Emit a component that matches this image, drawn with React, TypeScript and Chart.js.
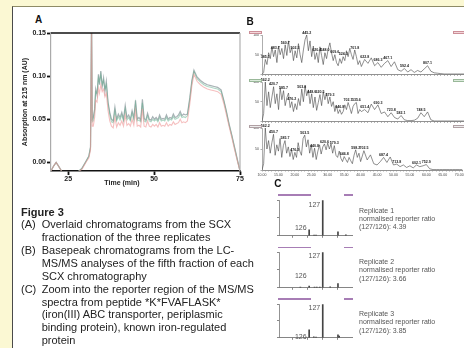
import React, { useEffect, useRef } from 'react';
import { Chart, registerables } from 'chart.js';
Chart.register(...registerables);

const FONT = '"Liberation Sans", Arial, sans-serif';

// ---------- Panel A: SCX chromatograms ----------
const timeA = [
  20, 20.8, 21.5, 22.3, 23.2, 25, 27.5, 29, 30.3, 31.0,
  31.5, 31.8, 32.0, 32.3, 32.7, 33.0, 33.4, 33.8, 34.1, 34.5,
  34.9, 35.3, 35.7, 36.1, 36.6, 37.1, 37.6, 38.1, 38.6, 39.1,
  39.6, 40.1, 40.6, 41.1, 41.6, 42.1, 42.6, 43.1, 43.6, 44.1,
  44.6, 45.1, 45.6, 46.1, 46.6, 47.1, 47.6, 48.1, 48.6, 49.1,
  49.6, 50.1, 50.6, 51.1, 51.6, 52.1, 52.6, 53.1, 53.6, 54.1,
  54.6, 55.1, 55.6, 56.1, 56.6, 57.1, 57.6, 58.1, 58.6, 59.1,
  59.7, 60.4, 61.0, 61.6, 62.5, 63.5, 64.5, 65.5, 66.5, 67.5,
  68.5, 69.5, 70.3, 71.0, 71.8, 72.6, 73.4, 74.2, 75,
];
const replicate1 = [
  -0.010, -0.004, 0.000, -0.005, -0.011, -0.013, -0.012, -0.007, 0.002, 0.007,
  0.018, 0.170, 0.050, 0.052, 0.062, 0.085, 0.078, 0.102, 0.090, 0.106,
  0.088, 0.098, 0.082, 0.094, 0.070, 0.058, 0.050, 0.048, 0.064, 0.050,
  0.056, 0.052, 0.058, 0.050, 0.066, 0.052, 0.055, 0.050, 0.060, 0.052,
  0.072, 0.050, 0.052, 0.049, 0.073, 0.051, 0.049, 0.057, 0.050, 0.049,
  0.053, 0.050, 0.052, 0.049, 0.055, 0.050, 0.051, 0.050, 0.055, 0.050,
  0.052, 0.051, 0.056, 0.052, 0.053, 0.055, 0.059, 0.054, 0.056, 0.055,
  0.056, 0.075, 0.095, 0.107, 0.099, 0.095, 0.092, 0.090, 0.089, 0.088,
  0.087, 0.084, 0.072, 0.060, 0.045, 0.032, 0.018, 0.004, -0.010,
];
const replicate2 = [
  -0.010, -0.004, 0.000, -0.005, -0.011, -0.013, -0.012, -0.007, 0.002, 0.007,
  0.017, 0.165, 0.047, 0.048, 0.060, 0.082, 0.080, 0.098, 0.093, 0.102,
  0.090, 0.095, 0.085, 0.090, 0.068, 0.055, 0.047, 0.046, 0.060, 0.048,
  0.053, 0.049, 0.055, 0.048, 0.062, 0.049, 0.052, 0.048, 0.057, 0.049,
  0.068, 0.048, 0.049, 0.047, 0.069, 0.048, 0.047, 0.054, 0.048, 0.047,
  0.050, 0.048, 0.050, 0.047, 0.052, 0.048, 0.049, 0.048, 0.052, 0.048,
  0.050, 0.049, 0.053, 0.050, 0.051, 0.052, 0.056, 0.052, 0.053, 0.052,
  0.054, 0.073, 0.093, 0.105, 0.097, 0.093, 0.090, 0.088, 0.087, 0.086,
  0.085, 0.082, 0.071, 0.059, 0.044, 0.031, 0.017, 0.003, -0.010,
];
const replicate3 = [
  -0.010, -0.004, 0.000, -0.005, -0.011, -0.013, -0.012, -0.008, 0.001, 0.005,
  0.014, 0.160, 0.042, 0.042, 0.052, 0.072, 0.070, 0.086, 0.080, 0.090,
  0.082, 0.085, 0.076, 0.080, 0.060, 0.048, 0.042, 0.040, 0.052, 0.041,
  0.046, 0.043, 0.048, 0.042, 0.055, 0.043, 0.045, 0.042, 0.050, 0.043,
  0.060, 0.042, 0.043, 0.041, 0.062, 0.042, 0.041, 0.048, 0.042, 0.041,
  0.044, 0.042, 0.044, 0.041, 0.046, 0.042, 0.043, 0.042, 0.046, 0.042,
  0.044, 0.043, 0.047, 0.044, 0.045, 0.046, 0.050, 0.046, 0.047, 0.046,
  0.048, 0.068, 0.089, 0.102, 0.094, 0.090, 0.087, 0.085, 0.084, 0.083,
  0.082, 0.079, 0.068, 0.056, 0.042, 0.029, 0.015, 0.002, -0.010,
];
const xTicksA = [25, 50, 75];
const yTicksA = [0, 0.05, 0.1, 0.15];

// ---------- Panel B: base peak chromatograms ----------
const timeB = [
  10, 10.5, 11, 11.5, 12, 12.5, 13, 13.5, 14, 14.5,
  15, 15.5, 16, 16.5, 17, 17.5, 18, 18.5, 19, 19.5,
  20, 20.5, 21, 21.5, 22, 22.5, 23, 23.5, 24, 24.5,
  25, 25.5, 26, 26.5, 27, 27.5, 28, 28.5, 29, 29.5,
  30, 30.5, 31, 31.5, 32, 32.5, 33, 33.5, 34, 34.5,
  35, 35.5, 36, 36.5, 37, 37.5, 38, 38.5, 39, 39.5,
  40,
  41, 42, 43, 44, 45, 46, 47, 48, 49, 50,
  51, 52, 53, 54, 55, 56, 57, 58, 59, 60,
  61, 62, 63, 64, 65, 66, 67, 68, 69, 70, 71,
];
const basePeak1 = [
  0, 5, 38, 25, 55, 40, 70, 45, 62, 30,
  72, 50, 66, 40, 75, 48, 85, 55, 68, 35,
  60, 42, 78, 50, 30, 62, 88, 100, 60, 85,
  45, 72, 38, 55, 30, 70, 48, 25, 55, 40,
  65, 80, 55, 35, 50, 30, 22, 40, 28, 45,
  35, 60, 45, 66, 50, 38, 62, 45, 25, 35,
  20,
  38, 28, 42, 22, 30, 18, 28, 35, 20, 32,
  12, 8, 15, 6, 12, 5, 10, 6, 14, 22,
  8, 4, 3, 2, 1, 1, 1, 1, 1, 1, 1,
];
const basePeak2 = [
  0, 20, 100, 40, 75, 35, 62, 88, 45, 70,
  30, 85, 55, 78, 40, 60, 72, 35, 50, 25,
  45, 30, 58, 40, 82, 50, 90, 65, 80, 45,
  70, 35, 62, 28, 48, 68, 40, 75, 55, 72,
  45, 62, 38, 50, 25, 40, 20, 30, 18, 25,
  42, 30, 48, 35, 20, 38, 45, 48, 20, 30,
  25,
  30, 22, 44, 30, 42, 20, 24, 12, 22, 10,
  6, 15, 4, 2, 2, 3, 8, 22, 12, 24,
  4, 1, 1, 1, 1, 1, 1, 1, 1, 1, 1,
];
const basePeak3 = [
  0, 15, 100, 50, 70, 40, 65, 85, 35, 60,
  45, 75, 30, 58, 70, 40, 55, 32, 48, 25,
  42, 30, 65, 45, 35, 75, 83, 55, 72, 40,
  60, 30, 52, 25, 45, 60, 38, 55, 62, 48,
  64, 50, 62, 40, 58, 35, 30, 45, 28, 20,
  32, 25, 18, 30, 22, 15, 35, 48, 30, 40,
  20,
  46, 24, 36, 15, 12, 20, 30, 18, 31, 12,
  14, 8, 12, 6, 10, 5, 12, 8, 10, 13,
  3, 1, 1, 1, 1, 1, 1, 1, 1, 1, 1,
];
const peakMasses1 = ['385.1', '483.7', '560.7', '502.3', '445.2', '620.4', '548.0', '609.6', '524.3', '701.8', '622.8', '686.3', '467.1', '592.4', '807.1', '901.5', '765.2', '812.4', '1002.6', '845.7', '1016.6', '912.3'];
const peakMasses2 = ['562.2', '420.7', '585.7', '476.2', '503.8', '448.0', '620.5', '579.3', '646.8', '702.1', '535.6', '651.4', '690.3', '723.8', '582.1', '748.5', '814.9', '806.2', '902.6', '958.3', '1001.4', '848.1'];
const peakMasses3 = ['562.2', '450.7', '585.7', '476.2', '503.5', '440.8', '620.6', '579.3', '646.8', '598.2', '702.5', '687.4', '713.8', '602.1', '752.9', '648.6', '865.2', '812.4', '904.6', '1016.3', '954.7', '881.0'];
const timeTickLabelsB = ['10.00', '15.00', '20.00', '25.00', '30.00', '35.00', '40.00', '45.00', '50.00', '55.00', '60.00', '65.00', '70.00'];
const intensityTicksB = [0, 50, 100];

// ---------- Panel C: reporter ion region ----------
const mzTicksC = [125, 126, 127, 128];
const spectrum1Mz = [126.09, 126.42, 126.55, 127.0, 128.02, 128.55];
const spectrum1Int = [17, 2, 2, 100, 11, 3];
const spectrum2Mz = [125.5, 126.09, 126.45, 126.6, 126.8, 127.0, 127.5, 128.02];
const spectrum2Int = [2, 5, 2, 2, 2, 100, 3, 12];
const spectrum3Mz = [126.09, 126.4, 126.55, 127.0, 128.02, 128.1];
const spectrum3Int = [24, 3, 2, 100, 9, 5];
const reporterLabels = ['127', '126'];
const reporterMz = [127.0, 126.09];
const labelHeights1 = [86, 21];
const labelHeights2 = [89, 32];
const labelHeights3 = [88, 3];
const replicateNames = ['Replicate 1', 'Replicate 2', 'Replicate 3'];
const reporterRatios = ['4.39', '3.66', '3.85'];

// ---------- Caption ----------
const captionTitle = 'Figure 3';
const captionTags = ['(A)', '(B)', '(C)'];
const captionLines = [
  ['Overlaid chromatograms from the SCX', 'fractionation of the three replicates'],
  ['Basepeak chromatograms from the LC-', 'MS/MS analyses of the fifth fraction of each', 'SCX chromatography'],
  ['Zoom into the reporter region of the MS/MS', 'spectra from peptide *K*FVAFLASK*', '(iron(III) ABC transporter, periplasmic', 'binding protein), known iron-regulated', 'protein'],
];

// ---------- plugins ----------
const frameAPlugin = {
  id: 'frameA',
  afterDraw(chart: any) {
    const { ctx, chartArea: a } = chart;
    ctx.save();
    ctx.strokeStyle = '#111';
    ctx.lineWidth = 1.5;
    ctx.beginPath();
    ctx.moveTo(a.left, a.top);
    ctx.lineTo(a.right, a.top);
    ctx.stroke();
    ctx.strokeStyle = '#b0b0b0';
    ctx.lineWidth = 1.2;
    ctx.beginPath();
    ctx.moveTo(a.right, a.top);
    ctx.lineTo(a.right, a.bottom);
    ctx.stroke();
    ctx.restore();
  },
};

const peakLabelPlugin = {
  id: 'peakLabels',
  afterDatasetsDraw(chart: any, _args: any, opts: any) {
    const labels: string[] = opts.labels || [];
    const meta = chart.getDatasetMeta(0);
    const data = chart.data.datasets[0].data;
    const ctx = chart.ctx;
    ctx.save();
    ctx.font = `bold 3.6px ${FONT}`;
    ctx.fillStyle = '#222';
    ctx.textAlign = 'center';
    ctx.textBaseline = 'bottom';
    let k = 0;
    let lastX = -100;
    for (let i = 1; i < data.length - 1 && k < labels.length; i++) {
      const v = data[i].y, p = data[i - 1].y, n = data[i + 1].y;
      if (v >= opts.threshold && v >= p && v >= n) {
        const el = meta.data[i];
        if (el.x - lastX < opts.minGap) continue;
        ctx.fillText(labels[k++], el.x, el.y - 0.5);
        lastX = el.x;
      }
    }
    ctx.restore();
  },
};

const reporterLabelPlugin = {
  id: 'reporterLabels',
  afterDatasetsDraw(chart: any, _args: any, opts: any) {
    const { ctx, scales } = chart;
    ctx.save();
    ctx.font = `7px ${FONT}`;
    ctx.fillStyle = '#555';
    ctx.textAlign = 'right';
    ctx.textBaseline = 'middle';
    reporterLabels.forEach((t, i) => {
      const x = scales.x.getPixelForValue(reporterMz[i]);
      const y = scales.y.getPixelForValue(opts.heights[i]);
      ctx.fillText(t, x - 2.5, y);
    });
    ctx.restore();
  },
};

// ---------- configs ----------
function configA() {
  const mk = (label: string, vals: number[], color: string, w: number) => ({
    label,
    data: timeA.map((t, i) => ({ x: t, y: vals[i] })),
    borderColor: color,
    borderWidth: w,
    pointRadius: 0,
    fill: false,
    tension: 0,
  });
  const tickFont = { family: FONT, size: 7, weight: 'bold' as const };
  return {
    type: 'line',
    data: {
      datasets: [
        mk('Replicate 3', replicate3, 'rgba(238,150,150,0.6)', 1.1),
        mk('Replicate 2', replicate2, 'rgba(95,175,140,0.5)', 1.1),
        mk('Replicate 1', replicate1, 'rgba(130,145,150,0.7)', 1.2),
      ],
    },
    options: {
      animation: false,
      responsive: false,
      events: [],
      layout: { padding: { left: 18, top: 33, right: 10, bottom: 0 } },
      plugins: { legend: { display: false }, tooltip: { enabled: false } },
      scales: {
        x: {
          type: 'linear',
          min: 20,
          max: 75,
          afterBuildTicks: (s: any) => { s.ticks = xTicksA.map((v) => ({ value: v })); },
          afterFit: (s: any) => { s.height = 19; },
          grid: { drawOnChartArea: false, tickLength: 4, tickWidth: 1.8, tickColor: '#111' },
          border: { color: '#111', width: 1.5 },
          ticks: { padding: 0, color: '#222', font: tickFont, maxRotation: 0, autoSkip: false },
        },
        y: {
          type: 'linear',
          min: -0.01,
          max: 0.15,
          afterBuildTicks: (s: any) => { s.ticks = yTicksA.map((v) => ({ value: v })); },
          afterFit: (s: any) => { s.width = 33; },
          grid: { drawOnChartArea: false, tickLength: 4, tickWidth: 1.8, tickColor: '#111' },
          border: { color: '#aaa', width: 1.2 },
          ticks: { padding: 1, color: '#222', font: tickFont, callback: (v: number) => v.toFixed(2) },
          title: { display: true, text: 'Absorption at 215 nm (AU)', color: '#222', font: tickFont, padding: { top: 3, bottom: 0 } },
        },
      },
    },
    plugins: [frameAPlugin],
  };
}

function configB(values: number[], masses: string[], showTimeLabels: boolean, padTop: number, xHeight: number) {
  const tiny = { family: FONT, size: 3.5 };
  return {
    type: 'line',
    data: {
      datasets: [{
        label: 'Base peak',
        data: timeB.map((t, i) => ({ x: t, y: values[i] })),
        borderColor: '#444',
        borderWidth: 0.6,
        pointRadius: 0,
        tension: 0,
        fill: false,
      }],
    },
    options: {
      animation: false,
      responsive: false,
      events: [],
      layout: { padding: { left: 0, top: padTop, right: 0, bottom: 0 } },
      plugins: {
        legend: { display: false },
        tooltip: { enabled: false },
        peakLabels: { labels: masses, threshold: 12, minGap: 7 },
      },
      scales: {
        x: {
          type: 'linear',
          min: 10,
          max: 71,
          afterBuildTicks: (s: any) => {
            const arr: any[] = [];
            timeB.forEach((t) => { if (Number.isInteger(t)) arr.push({ value: t }); });
            s.ticks = arr;
          },
          afterFit: (s: any) => { s.height = xHeight; },
          grid: { drawOnChartArea: false, tickLength: 1.5, tickWidth: 0.6, tickColor: '#777' },
          border: { color: '#777', width: 0.8 },
          ticks: {
            display: showTimeLabels,
            padding: 1.5,
            color: '#444',
            font: tiny,
            maxRotation: 0,
            autoSkip: false,
            callback: (v: number) => (v % 5 === 0 ? timeTickLabelsB[(v - 10) / 5] : ''),
          },
        },
        y: {
          type: 'linear',
          min: 0,
          max: 100,
          afterBuildTicks: (s: any) => { s.ticks = intensityTicksB.map((v) => ({ value: v })); },
          afterFit: (s: any) => { s.width = 22; },
          grid: { drawOnChartArea: false, tickLength: 1.5, tickWidth: 0.6, tickColor: '#777' },
          border: { color: '#999', width: 0.8 },
          ticks: { padding: 1.5, color: '#444', font: tiny, callback: (v: number) => (v === 0 ? '' : String(v)) },
        },
      },
    },
    plugins: [peakLabelPlugin],
  };
}

function configC(mz: number[], ints: number[], heights: number[], padTop: number, xHeight: number) {
  return {
    type: 'bar',
    data: {
      datasets: [{
        label: 'Reporter ions',
        data: mz.map((m, i) => ({ x: m, y: ints[i] })),
        backgroundColor: '#444',
        borderWidth: 0,
        barThickness: 1,
      }],
    },
    options: {
      animation: false,
      responsive: false,
      events: [],
      layout: { padding: { left: 0, top: padTop, right: 4, bottom: 0 } },
      plugins: { legend: { display: false }, tooltip: { enabled: false }, reporterLabels: { heights } },
      scales: {
        x: {
          type: 'linear',
          min: 124.07,
          max: 128.96,
          offset: false,
          afterBuildTicks: (s: any) => { s.ticks = mzTicksC.map((v) => ({ value: v })); },
          afterFit: (s: any) => { s.height = xHeight; },
          grid: { drawOnChartArea: false, tickLength: 2, tickWidth: 0.7, tickColor: '#555', offset: false },
          border: { color: '#666', width: 0.8 },
          ticks: { display: false },
        },
        y: {
          type: 'linear',
          min: 0,
          max: 100,
          afterBuildTicks: (s: any) => { s.ticks = [0, 50, 100].map((v) => ({ value: v })); },
          afterFit: (s: any) => { s.width = 17; },
          grid: { drawOnChartArea: false, tickLength: 2, tickWidth: 0.7, tickColor: '#555' },
          border: { color: '#777', width: 0.8 },
          ticks: { callback: () => '' },
        },
      },
    },
    plugins: [reporterLabelPlugin],
  };
}

function ChartCanvas({ left, top, width, height, make }: any) {
  const ref = useRef<HTMLCanvasElement>(null);
  useEffect(() => {
    const chart = new Chart(ref.current as HTMLCanvasElement, make());
    return () => chart.destroy();
  }, []);
  return (
    <canvas
      ref={ref}
      width={width}
      height={height}
      style={{ position: 'absolute', left, top, width, height }}
    />
  );
}

const abs = (left: number, top: number, extra: any = {}) => ({ position: 'absolute' as const, left, top, ...extra });

function Rect({ left, top, width, height, fill, stroke }: any) {
  return <div style={abs(left, top, { width, height, background: fill, border: `0.8px solid ${stroke}`, boxSizing: 'border-box' })} />;
}

export default function App() {
  const panelLetter = { fontFamily: FONT, fontWeight: 'bold', fontSize: 10, lineHeight: '10px', color: '#111' };
  const noteTops = [206.5, 258.2, 310];
  const purpleTops = [194.3, 246.8, 298.3];
  return (
    <div style={{ position: 'absolute', left: 0, top: 0, width: 464, height: 348, overflow: 'hidden', background: '#FBF8D3', fontFamily: FONT }}>
      <div style={abs(12, 6, { width: 452, height: 342, background: '#fff', borderLeft: '1px solid #4a4a4a', borderTop: '1.5px solid #8e8b66', boxSizing: 'border-box' })} />

      {/* Panel A */}
      <div style={abs(35, 15, panelLetter)}>A</div>
      <ChartCanvas left={0} top={0} width={250} height={190} make={configA} />
      <div style={abs(122, 179, { transform: 'translateX(-50%)', fontSize: 7, fontWeight: 'bold', lineHeight: '8px', color: '#222', whiteSpace: 'nowrap' })}>Time (min)</div>

      {/* Panel B */}
      <div style={abs(246.5, 17.2, panelLetter)}>B</div>
      <ChartCanvas left={240} top={26} width={224} height={52} make={() => configB(basePeak1, peakMasses1, false, 9, 2)} />
      <ChartCanvas left={240} top={76} width={224} height={49} make={() => configB(basePeak2, peakMasses2, false, 6, 2)} />
      <ChartCanvas left={240} top={122} width={224} height={58} make={() => configB(basePeak3, peakMasses3, true, 6, 10)} />
      <Rect left={249} top={30.5} width={13} height={3} fill="#f4d6da" stroke="#cc8f98" />
      <Rect left={453} top={30.5} width={12} height={3} fill="#f4d6da" stroke="#cc8f98" />
      <Rect left={249} top={78.5} width={13} height={3} fill="#dcebdc" stroke="#99b899" />
      <Rect left={453} top={79} width={12} height={3} fill="#dcebdc" stroke="#99b899" />
      <Rect left={249} top={125} width={13} height={3} fill="#ececec" stroke="#b0a0a4" />
      <Rect left={453} top={125} width={12} height={3} fill="#ececec" stroke="#b0a0a4" />

      {/* Panel C */}
      <div style={abs(274.3, 179, panelLetter)}>C</div>
      <ChartCanvas left={262} top={190} width={94} height={56} make={() => configC(spectrum1Mz, spectrum1Int, labelHeights1, 5, 4)} />
      <ChartCanvas left={262} top={242} width={94} height={56} make={() => configC(spectrum2Mz, spectrum2Int, labelHeights2, 5, 4)} />
      <ChartCanvas left={262} top={294} width={94} height={54} make={() => configC(spectrum3Mz, spectrum3Int, labelHeights3, 5, 3)} />
      {purpleTops.map((t, i) => (
        <React.Fragment key={i}>
          <div style={abs(278, t, { width: 33, height: 1.3, background: '#a77db5' })} />
          <div style={abs(343.5, t, { width: 9, height: 1.3, background: '#a77db5' })} />
        </React.Fragment>
      ))}
      {replicateNames.map((name, i) => (
        <div key={i} style={abs(359, noteTops[i], { fontSize: 7, lineHeight: '8.3px', color: '#555', whiteSpace: 'nowrap' })}>
          {name}<br />normalised reporter ratio<br />(127/126): {reporterRatios[i]}
        </div>
      ))}

      {/* Caption */}
      <div style={abs(21, 206.9, { fontSize: 11, color: '#222', whiteSpace: 'nowrap' })}>
        <div style={{ fontWeight: 'bold', lineHeight: '11.6px', height: 11.6 }}>{captionTitle}</div>
        {captionTags.map((tag, i) => (
          <div key={i} style={{ display: 'flex', lineHeight: '12.85px' }}>
            <span style={{ width: 20.7, flex: 'none' }}>{tag}</span>
            <span>
              {captionLines[i].map((l, j) => (
                <React.Fragment key={j}>{j > 0 && <br />}{l}</React.Fragment>
              ))}
            </span>
          </div>
        ))}
      </div>
    </div>
  );
}
